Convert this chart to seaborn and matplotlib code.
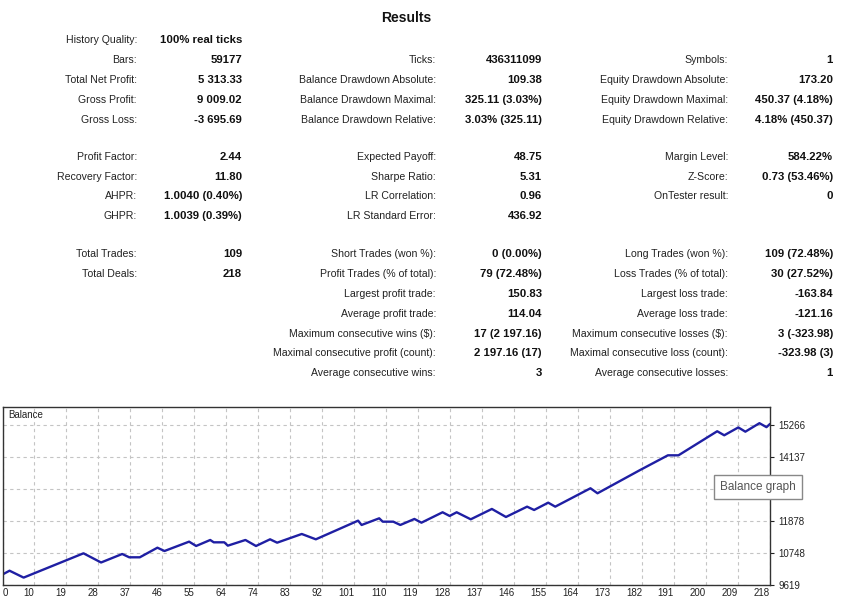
import matplotlib
matplotlib.use("Agg")
import matplotlib.pyplot as plt
import seaborn as sns
import pandas as pd

# ---------------- data ----------------
title = "Results"

# block 1 (rows 0..4)
b1_c1_labels = ["History Quality:", "Bars:", "Total Net Profit:", "Gross Profit:", "Gross Loss:"]
b1_c1_values = ["100% real ticks", "59177", "5 313.33", "9 009.02", "-3 695.69"]
b1_c2_labels = ["Ticks:", "Balance Drawdown Absolute:", "Balance Drawdown Maximal:", "Balance Drawdown Relative:"]
b1_c2_values = ["436311099", "109.38", "325.11 (3.03%)", "3.03% (325.11)"]
b1_c3_labels = ["Symbols:", "Equity Drawdown Absolute:", "Equity Drawdown Maximal:", "Equity Drawdown Relative:"]
b1_c3_values = ["1", "173.20", "450.37 (4.18%)", "4.18% (450.37)"]

# block 2
b2_c1_labels = ["Profit Factor:", "Recovery Factor:", "AHPR:", "GHPR:"]
b2_c1_values = ["2.44", "11.80", "1.0040 (0.40%)", "1.0039 (0.39%)"]
b2_c2_labels = ["Expected Payoff:", "Sharpe Ratio:", "LR Correlation:", "LR Standard Error:"]
b2_c2_values = ["48.75", "5.31", "0.96", "436.92"]
b2_c3_labels = ["Margin Level:", "Z-Score:", "OnTester result:"]
b2_c3_values = ["584.22%", "0.73 (53.46%)", "0"]

# block 3
b3_c1_labels = ["Total Trades:", "Total Deals:"]
b3_c1_values = ["109", "218"]
b3_c2_labels = ["Short Trades (won %):", "Profit Trades (% of total):", "Largest profit trade:",
                "Average profit trade:", "Maximum consecutive wins ($):",
                "Maximal consecutive profit (count):", "Average consecutive wins:"]
b3_c2_values = ["0 (0.00%)", "79 (72.48%)", "150.83", "114.04", "17 (2 197.16)", "2 197.16 (17)", "3"]
b3_c3_labels = ["Long Trades (won %):", "Loss Trades (% of total):", "Largest loss trade:",
                "Average loss trade:", "Maximum consecutive losses ($):",
                "Maximal consecutive loss (count):", "Average consecutive losses:"]
b3_c3_values = ["109 (72.48%)", "30 (27.52%)", "-163.84", "-121.16", "3 (-323.98)", "-323.98 (3)", "1"]

# balance graph (deal number, balance)
deal = [0, 2, 6, 23, 28, 34, 36, 39, 44, 46, 53, 55, 59, 60, 63, 64, 69, 72, 76, 78,
        85, 89, 101, 102, 107, 108, 111, 113, 117, 119, 125, 127, 129, 133, 139, 143,
        149, 151, 155, 157, 167, 169, 181, 189, 192, 203, 205, 209, 211, 215, 217, 218]
balance = [10000, 10134, 9891, 10748, 10424, 10724, 10607, 10607, 10946, 10829, 11159,
           11007, 11218, 11136, 11136, 11018, 11218, 11006, 11242, 11123, 11430, 11242,
           11900, 11748, 11983, 11864, 11864, 11748, 11960, 11829, 12196, 12066, 12196,
           11948, 12313, 12030, 12394, 12277, 12535, 12394, 13043, 12866, 13680, 14206,
           14206, 15055, 14913, 15190, 15040, 15340, 15200, 15313]

y_ticks = [9619, 10748, 11878, 13007, 14137, 15266]
y_tick_labels = ["9619", "10748", "11878", "", "14137", "15266"]  # 13007 hidden behind the tooltip
x_tick_labels = ["0", "10", "19", "28", "37", "46", "55", "64", "74", "83", "92", "101",
                 "110", "119", "128", "137", "146", "155", "164", "173", "182", "191",
                 "200", "209", "218"]
x_max = 218
y_min, y_max = 9619, 15911

# ---------------- drawing ----------------
sns.set_style("white")
plt.rcParams["font.family"] = ["Liberation Sans", "DejaVu Sans"]

W, H = 841, 600
fig = plt.figure(figsize=(W / 100, H / 100), dpi=100)
fig.patch.set_facecolor("white")


def px(x, y):
    return x / W, 1 - y / H


LAB_FS = 7.6
VAL_FS = 8.2
label_x = [137, 436, 728]
value_x = [242, 542, 833]

fig.text(*px(406, 18), title, ha="center", va="center", fontsize=10, fontweight="bold", color="#111111")


def draw_col(labels, values, col, ys):
    for lab, val, y in zip(labels, values, ys):
        fig.text(*px(label_x[col], y), lab, ha="right", va="center", fontsize=LAB_FS, color="#222222")
        fig.text(*px(value_x[col], y), val, ha="right", va="center", fontsize=VAL_FS,
                 fontweight="bold", color="#111111")


rows1 = [40, 60, 80, 100, 120]
rows2 = [157, 177, 196, 216]
rows3 = [254, 274, 294, 314, 334, 353, 373]

draw_col(b1_c1_labels, b1_c1_values, 0, rows1)
draw_col(b1_c2_labels, b1_c2_values, 1, rows1[1:])
draw_col(b1_c3_labels, b1_c3_values, 2, rows1[1:])
draw_col(b2_c1_labels, b2_c1_values, 0, rows2)
draw_col(b2_c2_labels, b2_c2_values, 1, rows2)
draw_col(b2_c3_labels, b2_c3_values, 2, rows2)
draw_col(b3_c1_labels, b3_c1_values, 0, rows3)
draw_col(b3_c2_labels, b3_c2_values, 1, rows3)
draw_col(b3_c3_labels, b3_c3_values, 2, rows3)

# chart
ax_l, ax_r, ax_t, ax_b = 2.5, 770, 407, 585.3
ax = fig.add_axes([ax_l / W, 1 - ax_b / H, (ax_r - ax_l) / W, (ax_b - ax_t) / H])
df = pd.DataFrame({"deal": deal, "balance": balance})
sns.lineplot(data=df, x="deal", y="balance", ax=ax, color="#1f1fa3", linewidth=1.7)
ax.set_xlim(0, x_max)
ax.set_ylim(y_min, y_max)
ax.set_xlabel("")
ax.set_ylabel("")

xt = [x_max * k / (len(x_tick_labels) - 1) for k in range(len(x_tick_labels))]
ax.set_xticks(xt)
ax.set_xticklabels(x_tick_labels)
for i, t in enumerate(ax.get_xticklabels()):
    t.set_ha("left" if i == 0 else "right")
ax.tick_params(axis="x", length=0, pad=2, labelsize=7, colors="#222222")

ax.yaxis.tick_right()
ax.set_yticks(y_ticks)
ax.set_yticklabels(y_tick_labels)
ax.tick_params(axis="y", right=True, length=3, width=0.8, pad=3, labelsize=7, colors="#222222")

ax.grid(True, linestyle=(0, (3, 3)), color="#c4c4c4", linewidth=0.8)
for s in ax.spines.values():
    s.set_color("#333333")
    s.set_linewidth(1.0)

ax.text(0.008, 0.955, "Balance", transform=ax.transAxes, ha="left", va="center",
        fontsize=7, color="#222222")

fig.text(*px(758, 487), "Balance graph", ha="center", va="center", fontsize=8.5, color="#555555",
         bbox=dict(boxstyle="square,pad=0.5", fc="white", ec="#888888", lw=1.0), zorder=10)

fig.savefig("out.png", dpi=100, facecolor="white")
